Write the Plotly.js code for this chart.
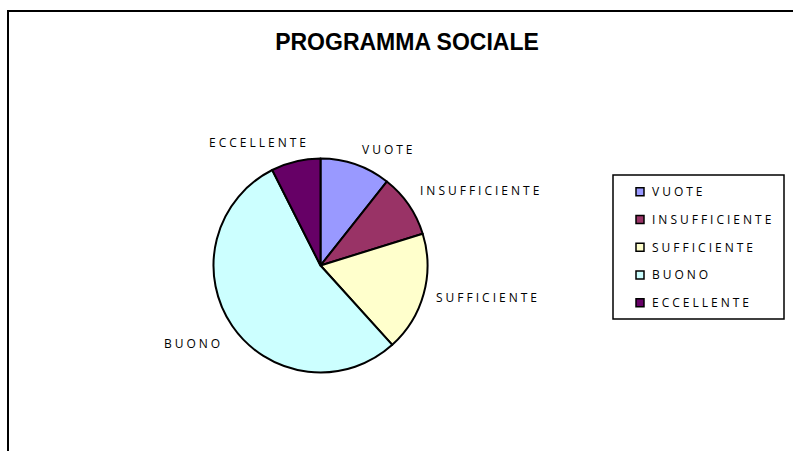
<!DOCTYPE html>
<html>
<head>
<meta charset="utf-8">
<script src="https://cdn.plot.ly/plotly-3.0.1.min.js"></script>
<style>
html,body{margin:0;padding:0;background:#fff;}
#chart{width:793px;height:451px;}
.annotation-text{letter-spacing:3px;}
</style>
</head>
<body>
<div id="chart"></div>
<script>
// Data
const categories = ["VUOTE", "INSUFFICIENTE", "SUFFICIENTE", "BUONO", "ECCELLENTE"];
const values = [10, 9, 17, 51, 7];
const colors = ["#9999FF", "#993366", "#FFFFCC", "#CCFFFF", "#660066"];
const chartTitle = "PROGRAMMA SOCIALE";

// Layout constants (pixels)
const W = 793, H = 451;
const cx = 320.5, cy = 265.5, R = 107;
const px = x => x / W;
const py = y => 1 - y / H;

// Slice label positions (pixel centers)
const labelPos = [[389, 150], [481, 190], [488, 297], [193, 343], [259, 142]];
// Legend geometry
const legBox = {x0: 613, y0: 175, x1: 784, y1: 319};
const legY0 = 191.7, legStep = 27.75, legSqX = 636, legSq = 8, legTextX = 650;

const trace = {
  type: "pie",
  labels: categories,
  values: values,
  sort: false,
  direction: "clockwise",
  rotation: 0,
  marker: {colors: colors, line: {color: "#000", width: 2}},
  textinfo: "none",
  hoverinfo: "label+value+percent",
  domain: {x: [px(cx - R), px(cx + R)], y: [py(cy + R), py(cy - R)]},
  showlegend: false
};

const labelFont = {family: "Open Sans, sans-serif", size: 12, color: "#000"};

const annotations = categories.map((c, i) => ({
  text: c, xref: "paper", yref: "paper",
  x: px(labelPos[i][0]), y: py(labelPos[i][1]),
  xanchor: "center", yanchor: "middle", showarrow: false,
  font: labelFont
}));

const shapes = [{
  type: "rect", xref: "paper", yref: "paper",
  x0: px(8), x1: 1.05, y0: -0.05, y1: py(11),
  line: {color: "#000", width: 2}, fillcolor: "rgba(0,0,0,0)"
}, {
  type: "rect", xref: "paper", yref: "paper",
  x0: px(legBox.x0), x1: px(legBox.x1), y0: py(legBox.y1), y1: py(legBox.y0),
  line: {color: "#000", width: 1.5}, fillcolor: "rgba(0,0,0,0)"
}];

categories.forEach((c, i) => {
  const yc = legY0 + i * legStep;
  shapes.push({
    type: "rect", xref: "paper", yref: "paper",
    x0: px(legSqX), x1: px(legSqX + legSq),
    y0: py(yc + legSq / 2), y1: py(yc - legSq / 2),
    fillcolor: colors[i], line: {color: "#000", width: 1.5}
  });
  annotations.push({
    text: c, xref: "paper", yref: "paper",
    x: px(legTextX), y: py(yc),
    xanchor: "left", yanchor: "middle", showarrow: false,
    font: labelFont
  });
});

const layout = {
  width: W, height: H,
  margin: {l: 0, r: 0, t: 0, b: 0},
  paper_bgcolor: "#fff",
  title: {
    text: "<b>" + chartTitle + "</b>",
    font: {family: "Liberation Sans, Arial, sans-serif", size: 23, color: "#000"},
    x: px(407), xanchor: "center",
    y: py(42), yanchor: "middle", xref: "paper", yref: "container"
  },
  showlegend: false,
  shapes: shapes,
  annotations: annotations
};

Plotly.newPlot("chart", [trace], layout, {displayModeBar: false, staticPlot: true});
</script>
</body>
</html>
